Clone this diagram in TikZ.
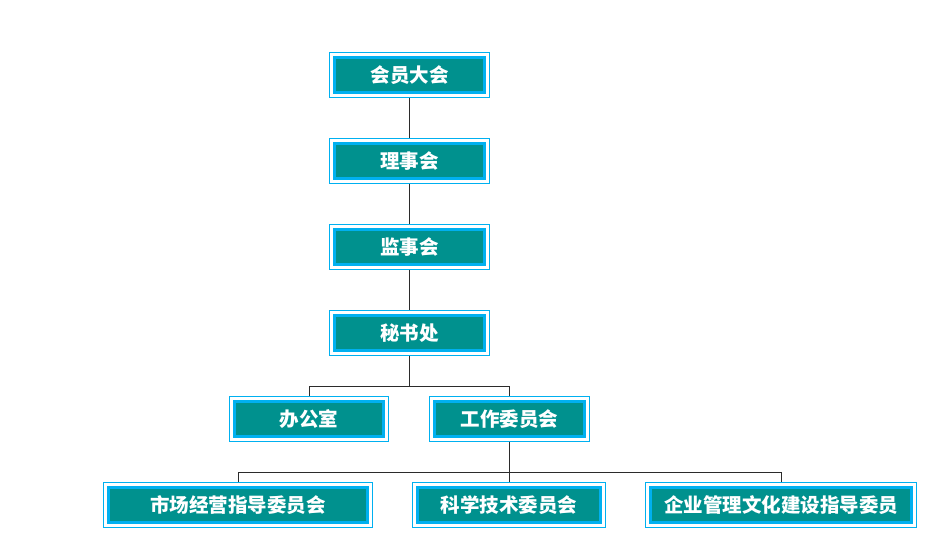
\documentclass[tikz,border=0pt]{standalone}
\usepackage{fontspec}
\usepackage{xcolor}
\usepackage{tikz}
\usetikzlibrary{fit}
\newfontfamily\cjk{Noto Sans CJK SC}
\definecolor{unitFill}{HTML}{00918E}
\definecolor{unitLine}{HTML}{00B0F0}
\definecolor{linkLine}{HTML}{2B2B2B}

\begin{document}
\begin{tikzpicture}[
  x=1pt, y=1pt,
  unit/.style={draw=unitLine, line width=3pt, fill=unitFill, text=white,
               font=\cjk\bfseries\fontsize{19.5}{22}\selectfont,
               minimum height=35pt, inner sep=0pt, anchor=center},
  frame/.style={draw=unitLine, line width=1pt, inner sep=3.5pt},
  link/.style={draw=linkLine, line width=0.9pt},
]
\useasboundingbox (0,0) rectangle (950,554);

% =========================================================================
% Main chain: one column at x = 409.5, 86pt apart
% =========================================================================
\node[unit, minimum width=150pt] (hy)  at (409.5,479) {会员大会};
\node[unit, minimum width=150pt] (lsh) at (409.5,393) {理事会};
\node[unit, minimum width=150pt] (jsh) at (409.5,307) {监事会};
\node[unit, minimum width=150pt] (msc) at (409.5,221) {秘书处};

% ---- second level --------------------------------------------------------
\node[unit, minimum width=149pt] (bgs) at (309,135)   {办公室};
\node[unit, minimum width=150pt] (gzw) at (509.5,135) {工作委员会};

% ---- third level: the committees ----------------------------------------
\node[unit, minimum width=259pt] (scjy) at (238,49)   {市场经营指导委员会};
\node[unit, minimum width=183pt] (kxjs) at (509,49)   {科学技术委员会};
\node[unit, minimum width=261pt] (qygl) at (781,49)   {企业管理文化建设指导委员};

% thin outer frame round every box
\foreach \n in {hy,lsh,jsh,msc,bgs,gzw,scjy,kxjs,qygl}{
  \node[frame, fit=(\n)] (\n-f) {};
}

% =========================================================================
% Connectors
% =========================================================================
\draw[link] (hy-f)  -- (lsh-f);
\draw[link] (lsh-f) -- (jsh-f);
\draw[link] (jsh-f) -- (msc-f);

\draw[link] (msc-f.south) -- ++(0,-30) -| (bgs-f.north);
\draw[link] (msc-f.south) -- ++(0,-30) -| (gzw-f.north);

\draw[link] (gzw-f.south) -- ++(0,-30) -| (scjy-f.north);
\draw[link] (gzw-f.south) -- ++(0,-30) -| (kxjs-f.north);
\draw[link] (gzw-f.south) -- ++(0,-30) -| (qygl-f.north);

\end{tikzpicture}
\end{document}
